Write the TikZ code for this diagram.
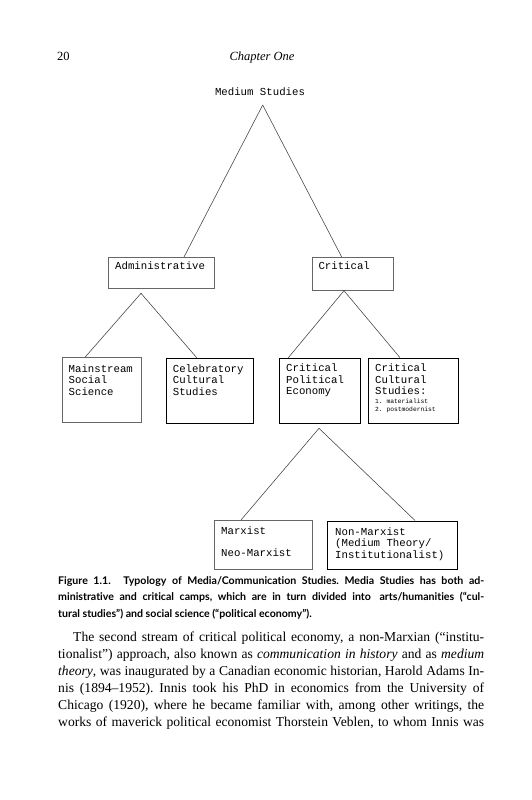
\documentclass[tikz,border=0pt]{standalone}
\usepackage{fontspec}
\setmainfont{Liberation Serif}
\newfontfamily\monof{Liberation Mono}
\newfontfamily\capf{Lato}[Ligatures=NoCommon]
\frenchspacing
\begin{document}
\begin{tikzpicture}[x=1pt,y=-1pt,
  conn/.style={draw=black!75, line width=0.55pt},
  lbox/.style={draw=black!60, line width=0.6pt, rectangle, inner sep=0pt, anchor=north west},
  dbox/.style={draw=black, line width=0.7pt, rectangle, inner sep=0pt, anchor=north west},
  btxt/.style={font=\monof\fontsize{10.7}{11.6}\selectfont, align=left, anchor=north west, inner sep=0pt},
  stxt/.style={font=\monof\fontsize{6.3}{7.6}\selectfont, align=left, anchor=north west, inner sep=0pt},
  capline/.style={font=\capf\bfseries\fontsize{10.6}{13}\selectfont, anchor=base west, inner sep=0pt},
  bodyline/.style={font=\fontsize{13.6}{16}\selectfont, anchor=base west, inner sep=0pt},
  hdr/.style={font=\fontsize{12.5}{15}\selectfont, inner sep=0pt}]
\useasboundingbox[fill=white] (0,0) rectangle (531,800);

% header
\node[hdr, anchor=base west] (pg) at (57,61) {20};
\node[hdr, font=\itshape\fontsize{12.5}{15}\selectfont, anchor=base] (ch) at (262,61) {Chapter One};

% diagram
\node[btxt, anchor=base] (ms) at (260,95.5) {Medium Studies};
\coordinate (apex) at (262.7,105);
\coordinate (admapex) at (141,293.3);
\coordinate (critapex) at (344,290.7);
\coordinate (cpeapex) at (319,428.3);

\node[lbox, minimum width=106pt, minimum height=30.5pt] (adm) at (108,257) {};
\node[lbox, minimum width=81pt, minimum height=33pt] (crit) at (311.7,257) {};
\node[lbox, minimum width=79pt, minimum height=64.7pt] (mss) at (62,357.3) {};
\node[dbox, minimum width=87.6pt, minimum height=65.6pt] (cel) at (165.7,357.7) {};
\node[dbox, minimum width=80.7pt, minimum height=65.6pt] (cpe) at (279.3,357.7) {};
\node[dbox, minimum width=90.5pt, minimum height=65.3pt] (ccs) at (367.5,357.7) {};
\node[lbox, minimum width=98pt, minimum height=48.5pt] (mar) at (214.3,520) {};
\node[dbox, minimum width=129.7pt, minimum height=48pt] (non) at (327.3,520.5) {};
\draw[line width=1.4pt] (ccs.north east) -- (ccs.south east);
\draw[line width=1.4pt] (non.north east) -- (non.south east);
\draw[line width=1.1pt] (non.south west) -- (non.south east);

\node[btxt] (admt) at ([shift={(7pt,-4.8pt)}]adm.north west) {Administrative};
\node[btxt] (critt) at ([shift={(6.6pt,-4.8pt)}]crit.north west) {Critical};
\node[btxt] (msst) at ([shift={(6.5pt,-6.9pt)}]mss.north west) {Mainstream\\Social\\Science};
\node[btxt] (celt) at ([shift={(7pt,-6.4pt)}]cel.north west) {Celebratory\\Cultural\\Studies};
\node[btxt] (cpet) at ([shift={(6.7pt,-5.8pt)}]cpe.north west) {Critical\\Political\\Economy};
\node[btxt] (ccst) at ([shift={(7.5pt,-5.8pt)}]ccs.north west) {Critical\\Cultural\\Studies:};
\node[stxt] (ccss) at ([shift={(7.5pt,-41.5pt)}]ccs.north west) {1. materialist\\2. postmodernist};
\node[btxt] (mart) at ([shift={(6.7pt,-6.5pt)}]mar.north west) {Marxist\\[10.6pt]Neo-Marxist};
\node[btxt] (nont) at ([shift={(7.7pt,-6.7pt)}]non.north west) {Non-Marxist\\(Medium Theory/\\Institutionalist)};

\draw[conn] (apex) -- ([xshift=76pt]adm.north west);
\draw[conn] (apex) -- ([xshift=30pt]crit.north west);
\draw[conn] (admapex) -- ([xshift=23pt]mss.north west);
\draw[conn] (admapex) -- ([xshift=31pt]cel.north west);
\draw[conn] (critapex) -- ([xshift=9pt]cpe.north west);
\draw[conn] (critapex) -- ([xshift=32.5pt]ccs.north west);
\draw[conn] (cpeapex) -- ([xshift=26.7pt]mar.north west);
\draw[conn] (cpeapex) -- ([xshift=87.7pt]non.north west);

% caption
\node[capline] (cap1) at (58,584) {\makebox[426pt][s]{Figure 1.1.\hspace{7pt} Typology of Media/Communication Studies. Media Studies has both ad-}};
\node[capline] (cap2) at (58,600.5) {\makebox[426pt][s]{ministrative and critical camps, which are in turn divided into\hspace{3pt} arts/humanities (“cul-}};
\node[capline] (cap3) at (58,617) {tural studies”) and social science (“political economy”).};

% body text
\node[bodyline] (b1) at (73,641.8) {\makebox[411pt][s]{The second stream of critical political economy, a non-Marxian (“institu-}};
\node[bodyline] (b2) at (58,658.8) {\makebox[426pt][s]{tionalist”) approach, also known as \textit{communication in history} and as \textit{medium}}};
\node[bodyline] (b3) at (58,675.8) {\makebox[426pt][s]{\textit{theory}, was inaugurated by a Canadian economic historian, Harold Adams In-}};
\node[bodyline] (b4) at (58,692.8) {\makebox[426pt][s]{nis (1894–1952). Innis took his PhD in economics from the University of}};
\node[bodyline] (b5) at (58,709.8) {\makebox[426pt][s]{Chicago (1920), where he became familiar with, among other writings, the}};
\node[bodyline] (b6) at (58,726.8) {\makebox[426pt][s]{works of maverick political economist Thorstein Veblen, to whom Innis was}};
\end{tikzpicture}
\end{document}
